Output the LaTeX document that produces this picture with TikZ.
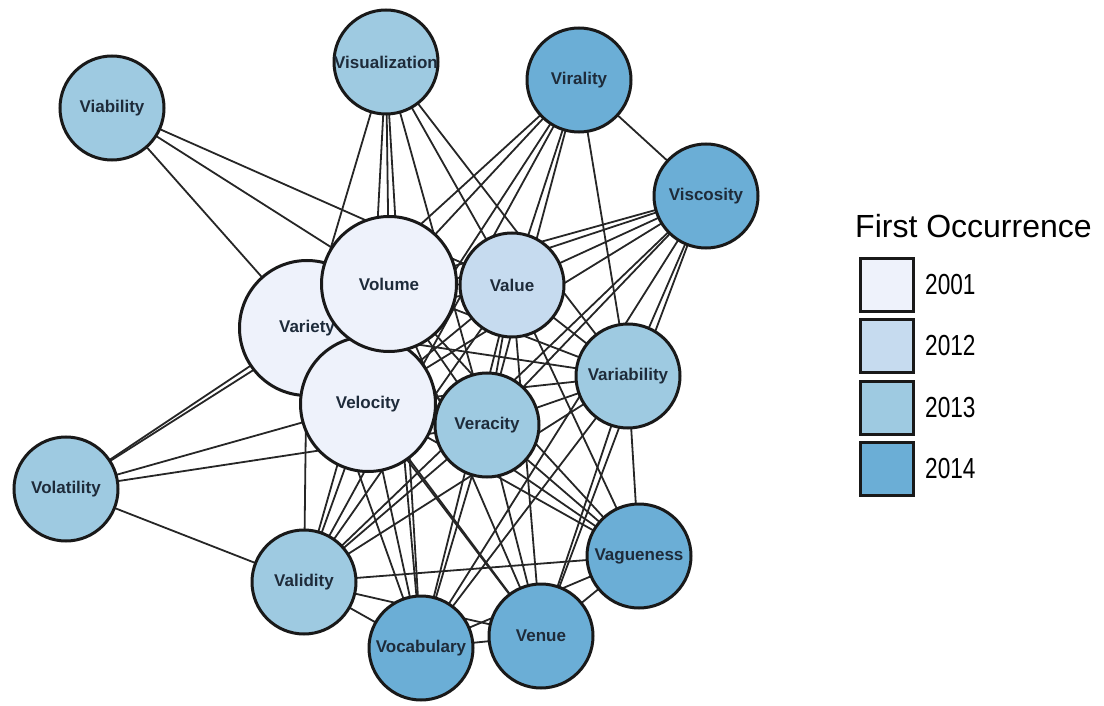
\documentclass[tikz,border=0pt]{standalone}
\usepackage{fontspec}
\setmainfont{Liberation Sans}
\usepackage{graphicx}
\usetikzlibrary{backgrounds}
\definecolor{y2001}{HTML}{EEF2FB}
\definecolor{y2012}{HTML}{C6DBEF}
\definecolor{y2013}{HTML}{9ECAE1}
\definecolor{y2014}{HTML}{6BAED6}
\definecolor{lbl}{HTML}{1E2B3A}
\begin{document}
\begin{tikzpicture}[x=1pt,y=-1pt,
    lbltxt/.style={text=lbl,inner sep=0pt,font=\fontsize{17}{17}\selectfont\bfseries},
    vnode/.style={circle,draw=black!90,line width=3pt,inner sep=0pt},
    small/.style={vnode,minimum size=104pt},
    big/.style={vnode,minimum size=135pt},
    link/.style={line width=1.8pt,black!85},
    legbox/.style={draw=black!90,line width=3pt,minimum width=53pt,minimum height=53pt,inner sep=0pt}]
    \useasboundingbox (0,0) rectangle (1104,706);

    % nodes, back to front
    \node[small,fill=y2013,label={[lbltxt]center:Viability}] (via) at (112,108) {};
    \node[small,fill=y2013,label={[lbltxt]center:Visualization}] (vis) at (386,62) {};
    \node[small,fill=y2014,label={[lbltxt]center:Virality}] (vir) at (579,80) {};
    \node[small,fill=y2014,label={[lbltxt]center:Viscosity}] (vsc) at (706,196) {};
    \node[big,fill=y2001,label={[lbltxt]center:Variety}] (vty) at (307,328) {};
    \node[big,fill=y2001,label={[lbltxt]center:Velocity}] (vel) at (368,404) {};
    \node[big,fill=y2001,label={[lbltxt]center:Volume}] (vol) at (389,284) {};
    \node[small,fill=y2012,label={[lbltxt]center:Value}] (val) at (512,285) {};
    \node[small,fill=y2013,label={[lbltxt]center:Veracity}] (ver) at (487,425) {};
    \node[small,fill=y2013,label={[lbltxt]center:Variability}] (vbl) at (628,376) {};
    \node[small,fill=y2013,label={[lbltxt]center:Volatility}] (vlt) at (66,489) {};
    \node[small,fill=y2014,label={[lbltxt]center:Vagueness}] (vag) at (639,556) {};
    \node[small,fill=y2013,label={[lbltxt]center:Validity}] (vld) at (304,582) {};
    \node[small,fill=y2014,label={[lbltxt]center:Vocabulary}] (voc) at (421,648) {};
    \node[small,fill=y2014,label={[lbltxt]center:Venue}] (ven) at (541,636) {};

    % links go under the circles
    \begin{pgfonlayer}{background}
        \foreach \a/\b in {vol/vty,vol/vel,vol/val,vol/ver,vty/vel,vty/val,vty/ver,vel/val,vel/ver,val/ver,
                via/val,via/vol,via/vty,
                vis/vty,vis/vol,vis/vel,vis/val,vis/ver,vis/vbl,vis/voc,
                vir/vol,vir/vty,vir/vel,vir/val,vir/ver,vir/vbl,vir/vsc,vir/vld,
                vsc/val,vsc/vol,vsc/vty,vsc/vel,vsc/ver,vsc/vbl,vsc/vld,vsc/voc,vsc/ven,
                vlt/vty,vlt/vol,vlt/vel,vlt/ver,vlt/vld,
                vbl/val,vbl/vol,vbl/vty,vbl/vel,vbl/ver,vbl/vag,vbl/vld,vbl/voc,vbl/ven,
                vag/vel,vag/vol,vag/vty,vag/ver,vag/val,vag/vld,vag/ven,vag/voc,
                vld/vty,vld/vel,vld/vol,vld/val,vld/ver,vld/ven,vld/voc,
                voc/vel,voc/vol,voc/vty,voc/ver,voc/val,voc/ven,
                ven/vel,ven/vty,ven/vol,ven/ver,ven/val} {
            \draw[link] (\a.center) -- (\b.center);
        }
    \end{pgfonlayer}

    % legend
    \node[anchor=base west,inner sep=0pt,font=\fontsize{32}{32}\selectfont] (title) at (855,237) {First Occurrence};
    \foreach \yr/\y in {2001/285,2012/346,2013/408,2014/469} {
        \node[legbox,fill=y\yr] (k\yr) at (887,\y) {};
        \node[anchor=west,inner sep=0pt,font=\fontsize{29}{29}\selectfont] (t\yr) at (925,\y) {\scalebox{0.78}[1]{\yr}};
    }
\end{tikzpicture}
\end{document}
